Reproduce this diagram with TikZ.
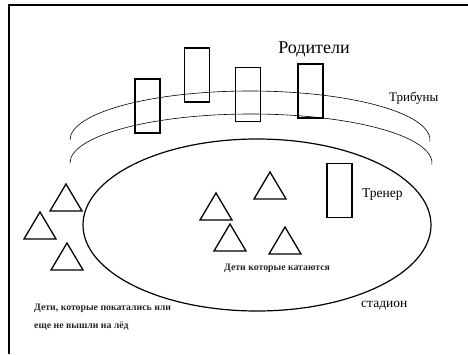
\documentclass[tikz,border=0pt]{standalone}
\usepackage{fontspec}
\setmainfont{Liberation Serif}
\usepackage{tikz}
\usetikzlibrary{positioning, calc}

\tikzset{
  label big/.style={inner sep=0pt, font=\fontsize{18}{20}\selectfont},
  label mid/.style={inner sep=0pt, font=\fontsize{13.5}{15}\selectfont},
  label small/.style={inner sep=0pt, anchor=west, font=\fontsize{9.8}{11}\selectfont\bfseries, text=black!85},
  person/.style={draw, line width=1.3pt, rectangle, inner sep=0pt, minimum width=25pt, minimum height=54pt},
}

\begin{document}
\begin{tikzpicture}[x=1pt, y=1pt]

%//page frame
\useasboundingbox (0,0) rectangle (468,354);
\draw [line width=2pt] (8.5,0) -- (8.5,348.5) -- (468,348.5);

%//tribunes
\draw [line width=0.6pt] (70,214) arc [start angle=180, end angle=-2, x radius=180, y radius=49];
\draw [line width=0.6pt] (70,191) arc [start angle=180, end angle=-2, x radius=181, y radius=49];

%//stadium
\draw [line width=1.2pt] (257,129) ellipse [x radius=174, y radius=86];

%//parents and coach
\node [person] (parent1) at (147.5,248) {};
\node [person] (parent2) at (197,279) {};
\node [person] (parent3) at (248,259.5) {};
\node [person] (parent4) at (310.5,263) {};
\node [person] (coach) at (339.5,163.5) {};

%//children
\foreach \x/\y in {66/170, 40/142, 67/111, 216/161, 270/182, 230/130, 285/127}
\draw [line width=1.3pt] (\x,\y) -- ++(-16,-27) -- ++(32,0) -- cycle;

%//labels
\node [label big] (parents) at (314,305) {Родители};
\node [label mid, anchor=west, font=\fontsize{13}{15}\selectfont] (tribunes) at (389,256) {Трибуны};
\node [label mid, anchor=west] (coachtext) at (362,159) {Тренер};
\node [label mid, anchor=west] (stadium) at (361,48) {стадион};
\node [label small] (skating) at (224,86) {Дети которые катаются};
\node [label small] (waiting1) at (34,46) {Дети, которые покатались или};
\node [label small] (waiting2) at (34,28) {еще не вышли на лёд};

\end{tikzpicture}
\end{document}
